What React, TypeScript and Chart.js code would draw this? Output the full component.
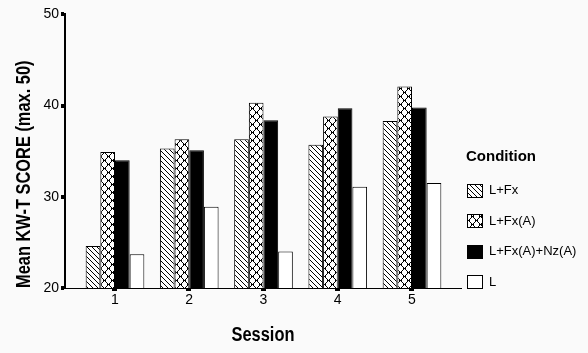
import React, { useEffect, useRef } from 'react';
import { Chart, registerables } from 'chart.js';

Chart.register(...registerables);

const sessions = [1, 2, 3, 4, 5];
const sessionTickLabels = ['1', '2', '3', '4', '5'];
const conditionLabels = ['L+Fx', 'L+Fx(A)', 'L+Fx(A)+Nz(A)', 'L'];
const lFx = [24.6, 35.3, 36.3, 35.7, 38.3];
const lFxA = [34.9, 36.3, 40.3, 38.8, 42.1];
const lFxANz = [34.0, 35.1, 38.4, 39.7, 39.8];
const lOnly = [23.7, 28.9, 24.0, 31.1, 31.5];
const yTickValues = [20, 30, 40, 50];
const xTitle = 'Session';
const yTitle = 'Mean KW-T SCORE (max. 50)';
const legendTitle = 'Condition';

const SANS = "'Liberation Sans', Arial, sans-serif";
const NARROW_SCALE = 0.82;

function tile(size: number, blacks: Array<[number, number]>): HTMLCanvasElement {
  const c = document.createElement('canvas');
  c.width = size;
  c.height = size;
  const ctx = c.getContext('2d')!;
  const img = ctx.createImageData(size, size);
  for (let i = 0; i < size * size; i++) {
    img.data[i * 4] = 255;
    img.data[i * 4 + 1] = 255;
    img.data[i * 4 + 2] = 255;
    img.data[i * 4 + 3] = 255;
  }
  for (const [x, y] of blacks) {
    const k = ((y % size) * size + (x % size)) * 4;
    img.data[k] = 0;
    img.data[k + 1] = 0;
    img.data[k + 2] = 0;
  }
  ctx.putImageData(img, 0, 0);
  return c;
}

function makePatterns(ctx: CanvasRenderingContext2D) {
  const hatchPts: Array<[number, number]> = [];
  for (let i = 0; i < 5; i++) hatchPts.push([i, i]);
  const hatch = ctx.createPattern(tile(5, hatchPts), 'repeat')!;

  const crossPts: Array<[number, number]> = [];
  for (let i = 0; i < 8; i++) {
    crossPts.push([i, i]);
    crossPts.push([i, (8 - i) % 8]);
  }
  for (const [cx, cy] of [[0, 0], [4, 4]]) {
    crossPts.push([(cx + 1) % 8, cy]);
    crossPts.push([(cx + 7) % 8, cy]);
  }
  const cross = ctx.createPattern(tile(8, crossPts), 'repeat')!;
  return { hatch, cross };
}

const bgPlugin = {
  id: 'bg',
  beforeDraw(chart: any) {
    const { ctx, width, height } = chart;
    ctx.save();
    ctx.fillStyle = '#fafafa';
    ctx.fillRect(0, 0, width, height);
    ctx.restore();
  },
};

const marksPlugin = {
  id: 'marks',
  afterDraw(chart: any) {
    const { ctx } = chart;
    const xs = chart.scales.x;
    const ys = chart.scales.y;
    ctx.save();
    ctx.fillStyle = '#000';
    for (const s of sessions) {
      const px = Math.round(xs.getPixelForValue(s));
      ctx.fillRect(px - 3, ys.bottom + 1, 5, 2);
    }
    for (const v of yTickValues) {
      const py = Math.round(ys.getPixelForValue(v));
      ctx.fillRect(xs.left - 4, py - 2, 3, 4);
    }
    ctx.restore();
  },
};

const titlesPlugin = {
  id: 'axisTitles',
  afterDraw(chart: any) {
    const { ctx } = chart;
    const area = chart.chartArea;
    ctx.save();
    ctx.fillStyle = '#000';
    ctx.font = `bold 20px ${SANS}`;
    ctx.textBaseline = 'middle';
    // x title
    ctx.save();
    ctx.translate((area.left + area.right) / 2, 335);
    ctx.scale(NARROW_SCALE, 1);
    ctx.textAlign = 'center';
    ctx.fillText(xTitle, 0, 0);
    ctx.restore();
    // y title
    ctx.save();
    ctx.translate(24, area.bottom);
    ctx.rotate(-Math.PI / 2);
    ctx.scale(NARROW_SCALE, 1);
    ctx.textAlign = 'left';
    ctx.fillText(yTitle, 0, 0);
    ctx.restore();
    ctx.restore();
  },
};

const legendPlugin = {
  id: 'customLegend',
  afterDraw(chart: any) {
    const { ctx } = chart;
    ctx.save();
    ctx.fillStyle = '#000';
    ctx.textBaseline = 'middle';
    ctx.textAlign = 'left';
    ctx.font = `bold 15px ${SANS}`;
    ctx.fillText(legendTitle, 466, 157);
    ctx.font = `13px ${SANS}`;
    chart.data.datasets.forEach((ds: any, i: number) => {
      const cy = 190.5 + i * 30.5;
      ctx.fillStyle = ds.backgroundColor;
      ctx.fillRect(467, Math.round(cy - 7), 16, 14);
      ctx.strokeStyle = '#000';
      ctx.lineWidth = 1;
      ctx.strokeRect(467.5, Math.round(cy - 7) + 0.5, 15, 13);
      ctx.fillStyle = '#000';
      ctx.fillText(ds.label, 489, cy);
    });
    ctx.restore();
  },
};

export default function App() {
  const ref = useRef<HTMLCanvasElement | null>(null);

  useEffect(() => {
    document.body.style.margin = '0';
    const canvas = ref.current!;
    const ctx = canvas.getContext('2d')!;
    const { hatch, cross } = makePatterns(ctx);
    const series = [lFx, lFxA, lFxANz, lOnly];
    const fills: any[] = [hatch, cross, '#000000', '#ffffff'];

    const chart = new Chart(canvas, {
      type: 'bar',
      data: {
        datasets: series.map((vals, i) => ({
          label: conditionLabels[i],
          data: sessions.map((s, j) => ({ x: s, y: vals[j] })),
          backgroundColor: fills[i],
          borderColor: '#000000',
          borderWidth: 1,
          borderSkipped: false,
          categoryPercentage: 0.79,
          barPercentage: 1,
        })),
      },
      options: {
        responsive: false,
        animation: false,
        devicePixelRatio: 1,
        layout: { padding: { left: 0, right: 127, top: 12, bottom: 0 } },
        plugins: {
          legend: { display: false },
          tooltip: { enabled: false },
        },
        scales: {
          x: {
            type: 'linear',
            offset: false,
            min: 1 - 50 / 74.25,
            max: 5 + 49 / 74.25,
            grid: { display: false, drawTicks: false, offset: false },
            border: { display: true, color: '#000', width: 1, z: 1 },
            afterBuildTicks: (scale: any) => {
              scale.ticks = sessions.map((v) => ({ value: v }));
            },
            afterFit: (scale: any) => {
              scale.height = 65;
            },
            ticks: {
              includeBounds: false,
              stepSize: 1,
              color: '#000',
              padding: 4,
              font: { family: SANS, size: 14 },
              callback: (v: any) => sessionTickLabels[sessions.indexOf(Number(v))] ?? '',
            },
            title: { display: false, text: xTitle },
          },
          y: {
            type: 'linear',
            min: 20,
            max: 50,
            grid: { display: false, drawTicks: false },
            border: { display: true, color: '#000', width: 2, z: 1 },
            afterBuildTicks: (scale: any) => {
              scale.ticks = yTickValues.map((v) => ({ value: v }));
            },
            afterFit: (scale: any) => {
              scale.width = 65;
            },
            ticks: {
              color: '#000',
              padding: 6,
              font: { family: SANS, size: 14 },
            },
            title: { display: false, text: yTitle },
          },
        },
      } as any,
      plugins: [bgPlugin, marksPlugin, titlesPlugin, legendPlugin],
    });

    return () => chart.destroy();
  }, []);

  return <canvas ref={ref} width={588} height={353} style={{ display: 'block' }} />;
}
